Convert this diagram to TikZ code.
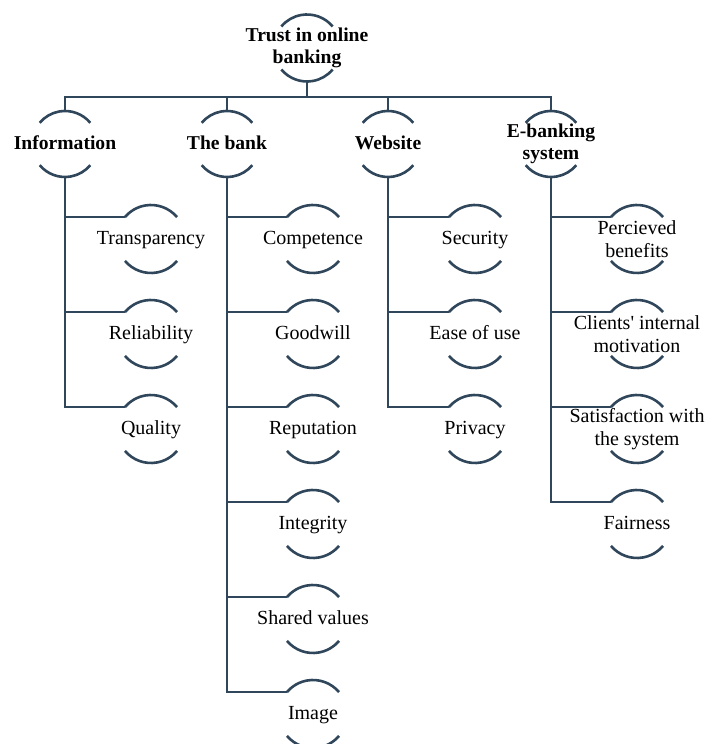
\documentclass[tikz,border=0pt]{standalone}
\usepackage{fontspec}
\setmainfont{Liberation Serif}
\definecolor{ln}{HTML}{30465B}
\tikzset{
  ring/.style={circle,minimum size=#1,inner sep=0pt,outer sep=0pt},
  arcline/.style={draw=ln,line width=2.6pt},
  conn/.style={draw=ln,line width=2.6pt},
  lbl/.style={align=center,inner sep=0pt,text=black,font=\fontsize{20}{22.5}\selectfont},
  hd/.style={font=\fontsize{19.6}{22}\selectfont\bfseries},
  one/.style={text height=15pt,text depth=3pt}
}
\newcommand\mkent[6]{%
  \node[ring=#4*2pt] (#1) at (#2,#3) {};
  \draw[arcline] (#1.40) arc[start angle=40,end angle=140,radius=#4pt];
  \draw[arcline] (#1.220) arc[start angle=220,end angle=320,radius=#4pt];
  \node[lbl,#6] (#1-t) at (#1.center) {#5};}
\begin{document}
\begin{tikzpicture}[x=1pt,y=1pt]
\useasboundingbox (0,0) rectangle (712,744);
\clip (0,0) rectangle (712,744);
% root
\mkent{root}{307}{696}{33.5}{Trust in online\\banking}{hd}
% level 1
\mkent{info}{65}{600}{33}{Information}{hd,one}
\mkent{bank}{227}{600}{33}{The bank}{hd,one}
\mkent{web}{388}{600}{33}{Website}{hd,one}
\mkent{ebs}{551}{600}{33}{E-banking\\system}{hd}
% information children
\mkent{i1}{151}{505}{34}{Transparency}{one}
\mkent{i2}{151}{410}{34}{Reliability}{one}
\mkent{i3}{151}{315}{34}{Quality}{one}
% bank children
\mkent{b1}{313}{505}{34}{Competence}{one}
\mkent{b2}{313}{410}{34}{Goodwill}{one}
\mkent{b3}{313}{315}{34}{Reputation}{one}
\mkent{b4}{313}{220}{34}{Integrity}{one}
\mkent{b5}{313}{125}{34}{Shared values}{one}
\mkent{b6}{313}{30}{34}{Image}{one}
% website children
\mkent{w1}{475}{505}{34}{Security}{one}
\mkent{w2}{475}{410}{34}{Ease of use}{one}
\mkent{w3}{475}{315}{34}{Privacy}{one}
% e-banking children
\mkent{e1}{637}{505}{34}{Percieved\\benefits}{}
\mkent{e2}{637}{410}{34}{Clients\textquotesingle{} internal\\motivation}{}
\mkent{e3}{637}{315}{34}{Satisfaction with\\the system}{}
\mkent{e4}{637}{220}{34}{Fairness}{one}
% top connectors
\coordinate (bar) at (307,647);
\draw[conn] (root.south) -- (bar);
\draw[conn] (info.north) |- (bar) -| (ebs.north);
\draw[conn] (bank.north) -- (bank.north |- bar);
\draw[conn] (web.north) -- (web.north |- bar);
% child connectors
\foreach \c in {i1,i2,i3} \draw[conn] (info.south) |- (\c.140);
\foreach \c in {b1,b2,b3,b4,b5,b6} \draw[conn] (bank.south) |- (\c.140);
\foreach \c in {w1,w2,w3} \draw[conn] (web.south) |- (\c.140);
\foreach \c in {e1,e2,e3,e4} \draw[conn] (ebs.south) |- (\c.140);
\end{tikzpicture}
\end{document}
